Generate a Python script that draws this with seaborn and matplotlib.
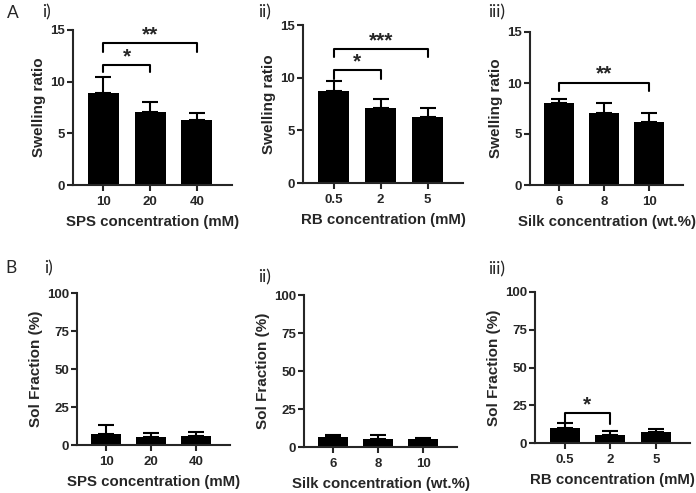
import pandas as pd
import seaborn as sns
import matplotlib.pyplot as plt
import numpy as np

# swelling ratio (row A), mean and SD
sps_conc = ['10', '20', '40']
sps_swell = [8.9, 7.1, 6.3]
sps_swell_sd = [1.6, 0.9, 0.7]

rb_conc = ['0.5', '2', '5']
rb_swell = [8.7, 7.1, 6.3]
rb_swell_sd = [1.0, 0.9, 0.8]

silk_conc = ['6', '8', '10']
silk_swell = [8.0, 7.1, 6.2]
silk_swell_sd = [0.4, 0.9, 0.9]

# sol fraction (row B), mean and SD
sps_sol = [7.5, 5.5, 6.0]
sps_sol_sd = [5.5, 2.5, 2.5]
silk_sol = [6.5, 5.5, 5.0]
silk_sol_sd = [1.5, 2.5, 1.0]
rb_sol = [10.0, 5.5, 7.0]
rb_sol_sd = [3.0, 2.5, 2.0]

sns.set_theme(style='ticks')
plt.rcParams['font.family'] = ['Liberation Sans', 'DejaVu Sans']
plt.rcParams['font.weight'] = 'bold'
plt.rcParams['axes.labelweight'] = 'bold'

W, H = 696, 493
fig = plt.figure(figsize=(W / 100, H / 100), dpi=100)


def add_ax(l, r, t, b):
    return fig.add_axes([l / W, 1 - b / H, (r - l) / W, (b - t) / H])


# (brackets: i, j, top, leg_bottom, stars)
panels = [
    (add_ax(73, 232, 30, 185), sps_conc, sps_swell, sps_swell_sd, 'SPS concentration (mM)',
     'Swelling ratio', 15, [0, 5, 10, 15], [(0, 1, 11.6, 10.9, '*'), (0, 2, 13.7, 12.9, '**')]),
    (add_ax(303, 463, 25, 183), rb_conc, rb_swell, rb_swell_sd, 'RB concentration (mM)',
     'Swelling ratio', 15, [0, 5, 10, 15], [(0, 1, 10.7, 9.9, '*'), (0, 2, 12.7, 12.0, '***')]),
    (add_ax(530, 683, 32, 185), silk_conc, silk_swell, silk_swell_sd, 'Silk concentration (wt.%)',
     'Swelling ratio', 15, [0, 5, 10, 15], [(0, 2, 10.0, 9.25, '**')]),
    (add_ax(77, 230, 293, 445), sps_conc, sps_sol, sps_sol_sd, 'SPS concentration (mM)',
     'Sol Fraction (%)', 100, [0, 25, 50, 75, 100], []),
    (add_ax(304, 457, 295, 447), silk_conc, silk_sol, silk_sol_sd, 'Silk concentration (wt.%)',
     'Sol Fraction (%)', 100, [0, 25, 50, 75, 100], []),
    (add_ax(535, 690, 292, 443), rb_conc, rb_sol, rb_sol_sd, 'RB concentration (mM)',
     'Sol Fraction (%)', 100, [0, 25, 50, 75, 100], [(0, 1, 19.7, 12.6, '*')]),
]

for ax, cats, vals, sd, xlab, ylab, ymax, yticks, brackets in panels:
    df = pd.DataFrame({'conc': cats, 'val': vals})
    sns.barplot(data=df, x='conc', y='val', color='black', saturation=1,
                width=0.66, ax=ax, errorbar=None, linewidth=0)
    ax.errorbar(range(len(cats)), vals, yerr=[np.zeros(len(sd)), sd], fmt='none',
                ecolor='black', elinewidth=1.5, capsize=6, capthick=1.5)
    for i, j, top, leg, stars in brackets:
        ax.plot([i, i, j, j], [leg, top, top, leg], color='black', lw=1.5,
                clip_on=False)
        ax.text((i + j) / 2, top - ymax * 0.005, stars, ha='center', va='bottom',
                fontsize=15, fontweight='bold')
    ax.set_xlim(-0.65, 2.75)
    ax.set_ylim(0, ymax)
    ax.set_yticks(yticks)
    ax.set_xlabel(xlab, fontsize=10.8, labelpad=5)
    ax.set_ylabel(ylab, fontsize=11, labelpad=3)
    ax.tick_params(labelsize=9.5, width=1.5, length=4)
    ax.tick_params(axis='x', pad=4)
    ax.tick_params(axis='y', pad=1.5)
    for lab in ax.get_xticklabels() + ax.get_yticklabels():
        lab.set_fontweight('bold')
    for s in ['left', 'bottom']:
        ax.spines[s].set_linewidth(1.5)
    sns.despine(ax=ax)

# panel letters
lab_font = dict(family=['Lato', 'DejaVu Sans'], fontsize=12.5, fontweight='normal',
                va='center', ha='left')
fig.text(7 / W, 1 - 13 / H, 'A', **lab_font)
fig.text(42 / W, 1 - 12 / H, 'i)', **lab_font)
fig.text(258 / W, 1 - 12 / H, 'ii)', **lab_font)
fig.text(488 / W, 1 - 12 / H, 'iii)', **lab_font)
fig.text(5 / W, 1 - 268 / H, 'B', **lab_font)
fig.text(44 / W, 1 - 268 / H, 'i)', **lab_font)
fig.text(258 / W, 1 - 277 / H, 'ii)', **lab_font)
fig.text(488 / W, 1 - 269 / H, 'iii)', **lab_font)

fig.savefig('out.png', dpi=100)
